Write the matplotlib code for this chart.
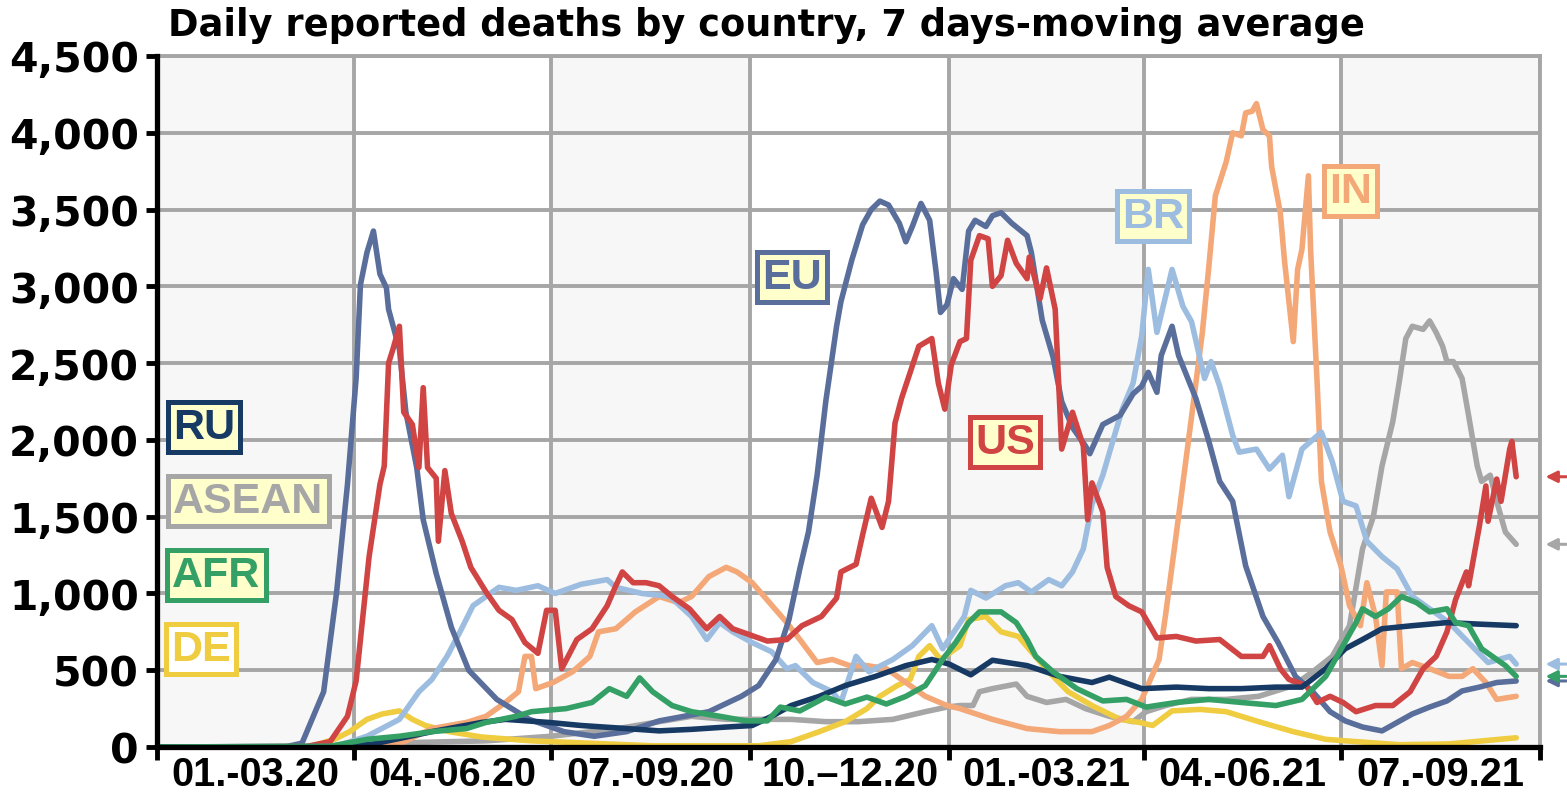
import matplotlib
matplotlib.use("Agg")
import matplotlib.pyplot as plt
import pandas as pd

# ---- data ----
eu_dates = ["2020-01-01", "2020-03-01", "2020-03-08", "2020-03-18", "2020-03-24", "2020-03-29", "2020-04-02",
            "2020-04-04", "2020-04-07", "2020-04-10", "2020-04-13", "2020-04-16", "2020-04-17", "2020-04-22",
            "2020-04-25", "2020-04-30", "2020-05-03", "2020-05-09", "2020-05-16", "2020-05-24", "2020-06-06",
            "2020-06-21", "2020-07-07", "2020-07-21", "2020-08-05", "2020-08-20", "2020-09-12", "2020-09-27",
            "2020-10-05", "2020-10-13", "2020-10-19", "2020-10-24", "2020-10-28", "2020-11-01", "2020-11-05",
            "2020-11-10", "2020-11-12", "2020-11-17", "2020-11-22", "2020-11-26", "2020-11-30", "2020-12-04",
            "2020-12-09", "2020-12-12", "2020-12-15", "2020-12-19", "2020-12-23", "2020-12-26", "2020-12-28",
            "2020-12-31", "2021-01-03", "2021-01-07", "2021-01-10", "2021-01-13", "2021-01-18", "2021-01-21",
            "2021-01-25", "2021-01-30", "2021-02-06", "2021-02-08", "2021-02-13", "2021-02-18", "2021-02-22",
            "2021-02-27", "2021-03-05", "2021-03-07", "2021-03-13", "2021-03-21", "2021-03-27", "2021-03-31",
            "2021-04-03", "2021-04-07", "2021-04-09", "2021-04-14", "2021-04-17", "2021-04-25", "2021-05-01",
            "2021-05-06", "2021-05-12", "2021-05-18", "2021-05-26", "2021-06-02", "2021-06-10", "2021-06-18",
            "2021-06-26", "2021-07-03", "2021-07-11", "2021-07-20", "2021-07-27", "2021-08-03", "2021-08-11",
            "2021-08-19", "2021-08-26", "2021-09-03", "2021-09-11", "2021-09-20"]
eu_vals = [0, 3, 25, 360, 1010, 1710, 2400, 3010, 3220, 3360, 3080, 2990, 2850, 2590, 2180, 1820, 1480, 1130,
           780, 500, 310, 180, 100, 70, 100, 170, 230, 330, 400, 570, 830, 1160, 1400, 1770, 2250, 2740, 2900,
           3170, 3400, 3500, 3555, 3530, 3410, 3290, 3390, 3540, 3430, 3090, 2830, 2880, 3050, 2980, 3360, 3430,
           3390, 3460, 3480, 3410, 3330, 3220, 2780, 2540, 2250, 2080, 1960, 1910, 2100, 2160, 2300, 2350, 2440,
           2310, 2550, 2740, 2550, 2270, 1990, 1730, 1600, 1180, 850, 680, 460, 360, 230, 170, 130, 105, 160,
           215, 260, 300, 365, 390, 420, 430]

us_dates = ["2020-01-01", "2020-03-10", "2020-03-21", "2020-03-29", "2020-04-02", "2020-04-08", "2020-04-13",
            "2020-04-15", "2020-04-17", "2020-04-19", "2020-04-22", "2020-04-24", "2020-04-28", "2020-05-01",
            "2020-05-03", "2020-05-05", "2020-05-09", "2020-05-10", "2020-05-13", "2020-05-16", "2020-05-21",
            "2020-05-25", "2020-06-01", "2020-06-07", "2020-06-13", "2020-06-19", "2020-06-25", "2020-06-29",
            "2020-07-03", "2020-07-06", "2020-07-13", "2020-07-20", "2020-07-27", "2020-07-31", "2020-08-03",
            "2020-08-08", "2020-08-14", "2020-08-20", "2020-08-26", "2020-09-03", "2020-09-11", "2020-09-17",
            "2020-09-23", "2020-09-29", "2020-10-09", "2020-10-18", "2020-10-25", "2020-11-03", "2020-11-10",
            "2020-11-12", "2020-11-19", "2020-11-22", "2020-11-26", "2020-12-01", "2020-12-04", "2020-12-07",
            "2020-12-10", "2020-12-18", "2020-12-24", "2020-12-27", "2020-12-30", "2021-01-02", "2021-01-06",
            "2021-01-09", "2021-01-11", "2021-01-15", "2021-01-19", "2021-01-21", "2021-01-25", "2021-01-28",
            "2021-02-01", "2021-02-06", "2021-02-07", "2021-02-12", "2021-02-15", "2021-02-19", "2021-02-21",
            "2021-02-22", "2021-02-27", "2021-03-04", "2021-03-06", "2021-03-08", "2021-03-13", "2021-03-15",
            "2021-03-19", "2021-03-25", "2021-03-31", "2021-04-07", "2021-04-16", "2021-04-25", "2021-05-06",
            "2021-05-16", "2021-05-26", "2021-05-29", "2021-06-03", "2021-06-07", "2021-06-15", "2021-06-20",
            "2021-06-26", "2021-07-02", "2021-07-08", "2021-07-17", "2021-07-25", "2021-08-02", "2021-08-08",
            "2021-08-14", "2021-08-19", "2021-08-23", "2021-08-28", "2021-08-29", "2021-09-03", "2021-09-06",
            "2021-09-07", "2021-09-11", "2021-09-13", "2021-09-17", "2021-09-18", "2021-09-20"]
us_vals = [0, 3, 35, 200, 430, 1240, 1710, 1830, 2500, 2590, 2740, 2180, 2100, 1820, 2340, 1820, 1750, 1340,
           1800, 1520, 1340, 1170, 1010, 890, 830, 680, 610, 890, 890, 510, 700, 770, 920, 1050, 1140, 1070, 1070,
           1050, 980, 900, 770, 850, 770, 740, 690, 700, 790, 850, 970, 1140, 1190, 1380, 1620, 1430, 1600, 2110,
           2270, 2610, 2660, 2370, 2200, 2490, 2640, 2660, 3170, 3330, 3310, 3000, 3070, 3300, 3150, 3050, 3190,
           2920, 3120, 2850, 2250, 1940, 2180, 1960, 1480, 1720, 1530, 1170, 980, 920, 880, 710, 720, 690, 700,
           590, 590, 660, 510, 440, 400, 290, 330, 290, 230, 270, 270, 360, 510, 590, 750, 960, 1140, 1050, 1440,
           1700, 1470, 1745, 1600, 1940, 1990, 1760]

br_dates = ["2020-01-01", "2020-03-15", "2020-03-25", "2020-04-07", "2020-04-22", "2020-05-01", "2020-05-07",
            "2020-05-14", "2020-05-20", "2020-05-26", "2020-06-01", "2020-06-07", "2020-06-15", "2020-06-25",
            "2020-07-03", "2020-07-15", "2020-07-27", "2020-07-31", "2020-08-12", "2020-08-25", "2020-09-04",
            "2020-09-11", "2020-09-17", "2020-09-23", "2020-10-02", "2020-10-11", "2020-10-18", "2020-10-22",
            "2020-10-30", "2020-11-08", "2020-11-12", "2020-11-19", "2020-11-25", "2020-12-06", "2020-12-15",
            "2020-12-24", "2020-12-29", "2021-01-08", "2021-01-11", "2021-01-18", "2021-01-27", "2021-02-02",
            "2021-02-08", "2021-02-16", "2021-02-22", "2021-02-27", "2021-03-04", "2021-03-08", "2021-03-13",
            "2021-03-18", "2021-03-22", "2021-03-27", "2021-03-31", "2021-04-03", "2021-04-07", "2021-04-14",
            "2021-04-19", "2021-04-23", "2021-04-29", "2021-05-02", "2021-05-06", "2021-05-12", "2021-05-15",
            "2021-05-23", "2021-05-29", "2021-06-04", "2021-06-07", "2021-06-13", "2021-06-22", "2021-06-27",
            "2021-07-02", "2021-07-08", "2021-07-13", "2021-07-20", "2021-07-27", "2021-08-03", "2021-08-11",
            "2021-08-20", "2021-08-29", "2021-09-07", "2021-09-17", "2021-09-20"]
br_vals = [0, 0, 10, 70, 180, 360, 440, 590, 750, 920, 980, 1040, 1020, 1050, 1000, 1060, 1090, 1040, 1000,
           980, 850, 700, 810, 750, 680, 620, 510, 530, 420, 360, 290, 590, 490, 570, 660, 790, 640, 850, 1020,
           970, 1050, 1070, 1010, 1090, 1050, 1140, 1290, 1580, 1770, 2010, 2200, 2370, 2680, 3110, 2700, 3110,
           2870, 2770, 2400, 2510, 2350, 2030, 1920, 1940, 1810, 1900, 1630, 1940, 2050, 1860, 1600, 1570, 1340,
           1240, 1160, 980, 900, 810, 680, 550, 590, 540]

in_dates = ["2020-01-01", "2020-03-25", "2020-04-22", "2020-05-07", "2020-05-23", "2020-06-01", "2020-06-10",
            "2020-06-16", "2020-06-19", "2020-06-22", "2020-06-24", "2020-07-02", "2020-07-11", "2020-07-19",
            "2020-07-23", "2020-07-31", "2020-08-09", "2020-08-20", "2020-08-29", "2020-09-04", "2020-09-12",
            "2020-09-20", "2020-09-25", "2020-10-02", "2020-10-10", "2020-10-18", "2020-10-24", "2020-11-01",
            "2020-11-08", "2020-11-16", "2020-11-24", "2020-12-03", "2020-12-12", "2020-12-21", "2020-12-31",
            "2021-01-06", "2021-01-21", "2021-02-06", "2021-02-21", "2021-03-08", "2021-03-16", "2021-03-24",
            "2021-03-31", "2021-04-08", "2021-04-11", "2021-04-17", "2021-04-23", "2021-04-28", "2021-05-01",
            "2021-05-04", "2021-05-09", "2021-05-12", "2021-05-16", "2021-05-18", "2021-05-21", "2021-05-23",
            "2021-05-26", "2021-05-29", "2021-05-30", "2021-06-03", "2021-06-05", "2021-06-09", "2021-06-11",
            "2021-06-13", "2021-06-16", "2021-06-17", "2021-06-20", "2021-06-22", "2021-06-26", "2021-07-01",
            "2021-07-05", "2021-07-10", "2021-07-13", "2021-07-17", "2021-07-20", "2021-07-22", "2021-07-27",
            "2021-07-29", "2021-08-03", "2021-08-11", "2021-08-20", "2021-08-26", "2021-08-31", "2021-09-06",
            "2021-09-11", "2021-09-20"]
in_vals = [0, 0, 20, 120, 160, 200, 290, 360, 590, 590, 380, 420, 490, 590, 750, 770, 880, 980, 940, 980, 1110,
           1170, 1140, 1070, 940, 810, 700, 550, 570, 530, 530, 510, 420, 330, 270, 250, 180, 120, 100, 100, 140,
           200, 310, 570, 860, 1500, 2150, 2700, 3130, 3590, 3810, 4000, 3980, 4130, 4140, 4190, 4020, 3980,
           3780, 3480, 3160, 2640, 3110, 3240, 3720, 3240, 2380, 1730, 1400, 1180, 920, 790, 1070, 850, 530, 1010,
           1010, 510, 550, 510, 460, 460, 510, 420, 310, 330]

ru_dates = ["2020-01-01", "2020-03-25", "2020-04-10", "2020-05-07", "2020-05-30", "2020-06-10", "2020-06-30",
            "2020-07-15", "2020-08-05", "2020-08-20", "2020-09-04", "2020-09-20", "2020-10-02", "2020-10-11",
            "2020-10-20", "2020-11-02", "2020-11-14", "2020-11-28", "2020-12-12", "2020-12-24", "2021-01-01",
            "2021-01-11", "2021-01-21", "2021-02-06", "2021-02-21", "2021-03-08", "2021-03-16", "2021-03-31",
            "2021-04-16", "2021-05-01", "2021-05-16", "2021-06-01", "2021-06-13", "2021-06-24", "2021-07-03",
            "2021-07-11", "2021-07-20", "2021-08-03", "2021-08-19", "2021-09-03", "2021-09-20"]
ru_vals = [0, 0, 20, 100, 160, 180, 160, 140, 120, 105, 115, 130, 140, 200, 270, 330, 400, 460, 530, 570, 540,
           470, 565, 530, 460, 420, 455, 380, 390, 380, 380, 390, 390, 510, 640, 700, 770, 790, 810, 800, 790]

asean_dates = ["2020-01-01", "2020-03-20", "2020-05-01", "2020-06-01", "2020-07-01", "2020-08-01",
               "2020-09-04", "2020-09-20", "2020-10-20", "2020-11-05", "2020-11-20", "2020-12-06", "2020-12-21",
               "2020-12-31", "2021-01-06", "2021-01-12", "2021-01-15", "2021-01-21", "2021-02-01", "2021-02-06",
               "2021-02-15", "2021-02-24", "2021-03-05", "2021-03-16", "2021-03-27", "2021-04-02", "2021-04-11",
               "2021-04-23", "2021-05-09", "2021-05-24", "2021-06-09", "2021-06-18", "2021-06-27", "2021-07-05",
               "2021-07-11", "2021-07-16", "2021-07-20", "2021-07-25", "2021-07-28", "2021-07-31", "2021-08-03",
               "2021-08-08", "2021-08-11", "2021-08-14", "2021-08-17", "2021-08-19", "2021-08-22", "2021-08-26",
               "2021-08-29", "2021-09-02", "2021-09-04", "2021-09-08", "2021-09-11", "2021-09-15", "2021-09-20"]
asean_vals = [0, 5, 30, 40, 70, 120, 200, 180, 180, 165, 165, 180, 230, 260, 270, 270, 360, 380, 410, 330, 290,
              310, 250, 200, 165, 230, 270, 310, 310, 330, 400, 490, 590, 790, 1290, 1500, 1830, 2120, 2380, 2660,
              2740, 2720, 2775, 2700, 2610, 2510, 2510, 2400, 2160, 1830, 1730, 1770, 1600, 1400, 1320]

afr_dates = ["2020-01-01", "2020-03-21", "2020-04-07", "2020-04-22", "2020-05-07", "2020-05-23", "2020-06-01",
             "2020-06-15", "2020-06-22", "2020-07-08", "2020-07-20", "2020-07-28", "2020-08-05", "2020-08-11",
             "2020-08-17", "2020-08-26", "2020-09-04", "2020-09-17", "2020-09-29", "2020-10-09", "2020-10-15",
             "2020-10-24", "2020-11-05", "2020-11-14", "2020-11-24", "2020-12-03", "2020-12-12", "2020-12-21",
             "2020-12-29", "2021-01-04", "2021-01-10", "2021-01-15", "2021-01-25", "2021-02-01", "2021-02-06",
             "2021-02-10", "2021-02-18", "2021-03-01", "2021-03-13", "2021-03-24", "2021-04-02", "2021-04-16",
             "2021-05-01", "2021-05-16", "2021-06-01", "2021-06-13", "2021-06-24", "2021-07-02", "2021-07-08",
             "2021-07-11", "2021-07-17", "2021-07-23", "2021-07-29", "2021-08-05", "2021-08-11", "2021-08-19",
             "2021-08-23", "2021-08-29", "2021-09-04", "2021-09-11", "2021-09-15", "2021-09-20"]
afr_vals = [0, 5, 50, 70, 100, 120, 160, 200, 230, 250, 290, 380, 330, 450, 360, 270, 230, 200, 170, 170, 260,
            235, 325, 280, 325, 280, 330, 400, 570, 680, 810, 880, 880, 810, 700, 590, 490, 380, 300, 310, 260,
            290, 310, 290, 270, 310, 460, 660, 810, 900, 850, 900, 980, 940, 880, 900, 810, 790, 640, 570, 530,
            460]

de_dates = ["2020-01-01", "2020-03-11", "2020-03-23", "2020-03-30", "2020-04-07", "2020-04-14", "2020-04-22",
            "2020-04-28", "2020-05-04", "2020-05-15", "2020-05-30", "2020-06-22", "2020-08-17", "2020-10-05",
            "2020-10-20", "2020-11-02", "2020-11-14", "2020-11-24", "2020-11-30", "2020-12-08", "2020-12-14",
            "2020-12-18", "2020-12-23", "2020-12-28", "2021-01-06", "2021-01-10", "2021-01-18", "2021-01-25",
            "2021-02-02", "2021-02-08", "2021-02-16", "2021-02-25", "2021-03-08", "2021-03-21", "2021-03-30",
            "2021-04-05", "2021-04-14", "2021-04-27", "2021-05-09", "2021-05-24", "2021-06-09", "2021-06-24",
            "2021-07-08", "2021-07-28", "2021-08-20", "2021-09-20"]
de_vals = [0, 0, 50, 100, 180, 215, 235, 180, 140, 100, 65, 40, 8, 8, 35, 100, 165, 250, 330, 400, 440, 590,
           660, 570, 660, 830, 850, 750, 720, 620, 490, 360, 270, 180, 160, 140, 235, 245, 230, 165, 100, 50, 35,
           15, 20, 60]

quarter_starts = ["2020-01-01", "2020-04-01", "2020-07-01", "2020-10-01", "2021-01-01", "2021-04-01",
                  "2021-07-01", "2021-10-01"]
quarter_labels = ["01.-03.20", "04.-06.20", "07.-09.20", "10.\u201312.20", "01.-03.21", "04.-06.21", "07.-09.21"]
y_ticks = [0, 500, 1000, 1500, 2000, 2500, 3000, 3500, 4000, 4500]

# series: name, dates, values, colour, label position (axes fraction), label fill, end arrow
series = [
    ("ASEAN", asean_dates, asean_vals, "#a6a6a6", (0.066, 0.356), "#ffffcc", True),
    ("DE", de_dates, de_vals, "#efcc40", (0.032, 0.142), "white", False),
    ("IN", in_dates, in_vals, "#f4a877", (0.863, 0.805), "#ffffcc", False),
    ("BR", br_dates, br_vals, "#9dbde0", (0.720, 0.768), "#ffffcc", True),
    ("EU", eu_dates, eu_vals, "#5a6e9b", (0.459, 0.680), "#ffffcc", True),
    ("US", us_dates, us_vals, "#d04444", (0.613, 0.441), "#ffffcc", True),
    ("RU", ru_dates, ru_vals, "#163a63", (0.034, 0.463), "#ffffcc", False),
    ("AFR", afr_dates, afr_vals, "#35a066", (0.043, 0.249), "#ffffcc", True),
]

grid_col = "#a6a6a6"

fig = plt.figure(figsize=(15.67, 8.04), dpi=100)
ax = fig.add_axes([157 / 1567, 1 - 748 / 804, 1383 / 1567, 691 / 804])

qs = pd.to_datetime(quarter_starts)
for i in range(len(qs) - 1):
    ax.axvspan(qs[i], qs[i + 1], color="#f7f7f7" if i % 2 == 0 else "white", lw=0, zorder=0)

for name, d, v, col, pos, fill, arrow in series:
    ax.plot(pd.to_datetime(d), v, color=col, lw=4.0, solid_joinstyle="round", solid_capstyle="round", zorder=3)
    ax.text(pos[0], pos[1], name, transform=ax.transAxes, ha="center", va="center",
            fontsize=31, fontweight="bold", family="Liberation Sans", color=col, zorder=5,
            bbox=dict(boxstyle="square,pad=0.12", fc=fill, ec=col, lw=3.6))
    if arrow:
        # small pointer outside the plot at the last value
        ax.annotate("", xy=(1.004, v[-1]), xycoords=("axes fraction", "data"),
                    xytext=(1.019, v[-1]), textcoords=("axes fraction", "data"),
                    arrowprops=dict(arrowstyle="-|>", color=col, lw=2.2, mutation_scale=17,
                                    shrinkA=0, shrinkB=0),
                    annotation_clip=False)

ax.set_xlim(qs[0], qs[-1])
ax.set_ylim(0, 4500)

ax.set_xticks(qs)
ax.set_xticklabels([])
mids = [qs[i] + (qs[i + 1] - qs[i]) / 2 for i in range(len(qs) - 1)]
ax.set_xticks(mids, minor=True)
ax.set_xticklabels(quarter_labels, minor=True, fontsize=28.5, fontweight="bold", family="Liberation Sans")
ax.tick_params(axis="x", which="major", length=9, width=3.5, color="black")
ax.tick_params(axis="x", which="minor", length=0, pad=6)

ax.set_yticks(y_ticks)
ax.set_yticklabels([f"{t:,}" for t in y_ticks], fontsize=29.5, fontweight="bold")
ax.tick_params(axis="y", length=8, width=3.5, color="black", pad=5)

ax.grid(True, which="major", color=grid_col, lw=2.8, zorder=1)
ax.set_axisbelow(True)
for s in ["top", "right"]:
    ax.spines[s].set_color(grid_col)
    ax.spines[s].set_linewidth(2.8)
for s in ["left", "bottom"]:
    ax.spines[s].set_color("black")
    ax.spines[s].set_linewidth(3.8)
    ax.spines[s].set_zorder(6)

fig.text(168 / 1567, 1 - 25 / 804, "Daily reported deaths by country, 7 days-moving average",
         fontsize=26.5, fontweight="bold", va="center", ha="left")

fig.savefig("out.png", dpi=100)
